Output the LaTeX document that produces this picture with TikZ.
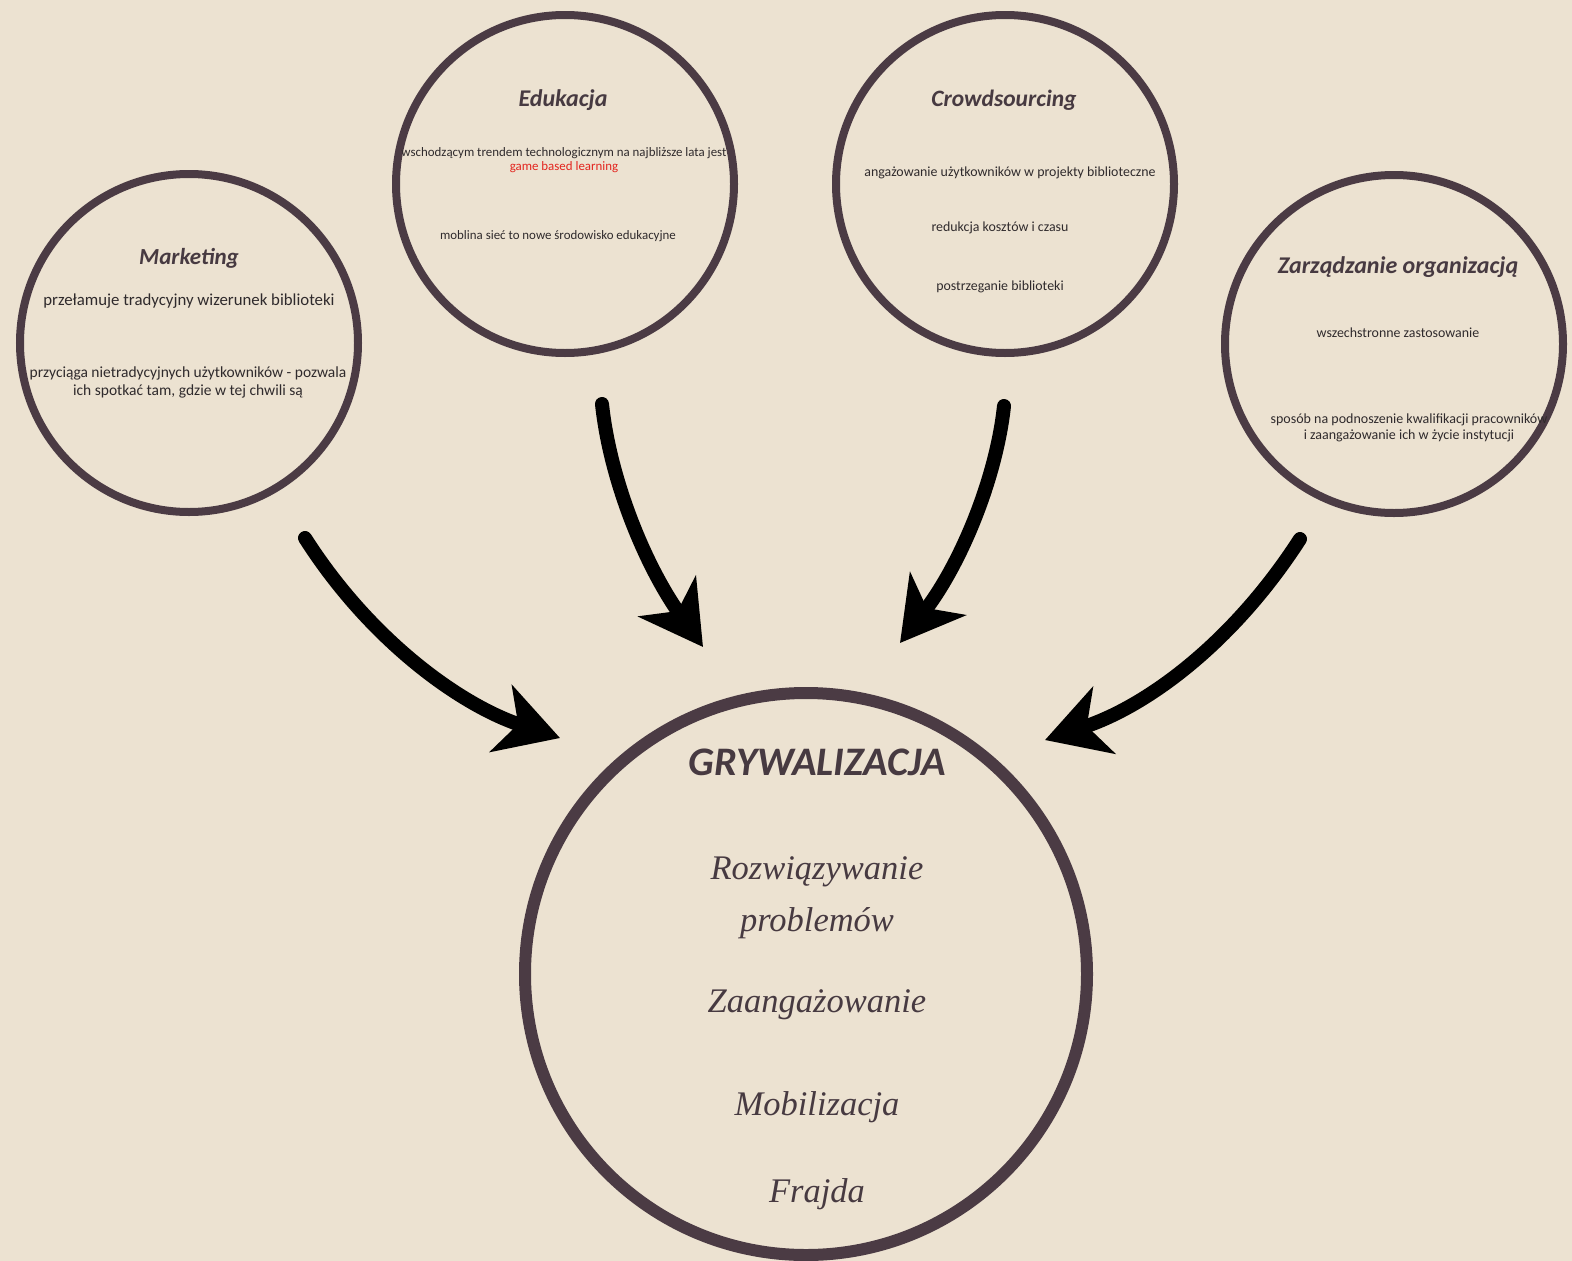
\documentclass[tikz,border=0pt]{standalone}
\usepackage{fontspec}
\usetikzlibrary{arrows.meta}
\newfontfamily\hdfont{Carlito}
\newfontfamily\srfont{Liberation Serif}
\definecolor{bgc}{HTML}{ECE2D1}
\definecolor{ringc}{HTML}{4B3B44}
\definecolor{headc}{HTML}{473A41}
\definecolor{bodyc}{HTML}{2F2A2C}
\definecolor{redc}{HTML}{E3241E}
\begin{document}
\begin{tikzpicture}[x=1pt,y=-1pt,
  ring/.style={circle,draw=ringc,line width=8pt,minimum size=338pt,inner sep=0pt},
  bigring/.style={circle,draw=ringc,line width=12pt,minimum size=562pt,inner sep=0pt},
  head/.style={text=headc,font=\hdfont\bfseries\itshape\fontsize{24}{28}\selectfont,inner sep=0pt},
  body/.style={text=bodyc,align=center,inner sep=0pt,font=\hdfont\fontsize{16.8}{18}\selectfont},
  small/.style={text=bodyc,align=center,inner sep=0pt,font=\hdfont\fontsize{13.9}{16}\selectfont},
  bigtxt/.style={text=headc,font=\srfont\itshape\fontsize{34.5}{52}\selectfont,align=center,inner sep=0pt},
  conn/.style={line width=14pt,line cap=round,-{Stealth[length=62pt,width=70pt,inset=18pt]}}]
\fill[bgc] (0,0) rectangle (1572,1261);
\useasboundingbox (0,0) rectangle (1572,1261);

% circles
\node[ring] (mk) at (189,343) {};
\node[ring] (ed) at (565,184) {};
\node[ring] (cr) at (1005,184) {};
\node[ring] (zo) at (1394,344) {};
\node[bigring] (gr) at (806,974) {};

% Marketing
\node[head,font=\hdfont\bfseries\itshape\fontsize{23}{28}\selectfont] (mkh) at (189,258) {Marketing};
\node[body] (mk1) at (189,301) {przełamuje tradycyjny wizerunek biblioteki};
\node[body,font=\hdfont\fontsize{15.5}{18}\selectfont] (mk2) at (188,382) {przyciąga nietradycyjnych użytkowników - pozwala\\ich spotkać tam, gdzie w tej chwili są};

% Edukacja
\node[head] (edh) at (563,100) {Edukacja};
\node[small,font=\hdfont\fontsize{12.9}{14}\selectfont] (ed1) at (564,160) {wschodzącym trendem technologicznym na najbliższe lata jest\\\textcolor{redc}{game based learning}};
\node[small,font=\hdfont\fontsize{12.9}{14}\selectfont] (ed2) at (558,236) {moblina sieć to nowe środowisko edukacyjne};

% Crowdsourcing
\node[head,font=\hdfont\bfseries\itshape\fontsize{23.5}{28}\selectfont] (crh) at (1004,100) {Crowdsourcing};
\node[small] (cr1) at (1010,173) {angażowanie użytkowników w projekty biblioteczne};
\node[small] (cr2) at (1000,228) {redukcja kosztów i czasu};
\node[small] (cr3) at (1000,287) {postrzeganie biblioteki};

% Zarzadzanie
\node[head] (zoh) at (1398,267) {Zarządzanie organizacją};
\node[small] (zo1) at (1398,333) {wszechstronne zastosowanie};
\node[small,font=\hdfont\fontsize{14}{16}\selectfont] (zo2) at (1409,428) {sposób na podnoszenie kwalifikacji pracowników\\i zaangażowanie ich w życie instytucji};

% Grywalizacja
\node[head,font=\hdfont\bfseries\itshape\fontsize{40.5}{44}\selectfont] (grh) at (817,762) {GRYWALIZACJA};
\node[bigtxt] (g1) at (817,898) {Rozwiązywanie\\problemów};
\node[bigtxt] (g2) at (817,1005) {Zaangażowanie};
\node[bigtxt] (g3) at (817,1107) {Mobilizacja};
\node[bigtxt] (g4) at (817,1194) {Frajda};

% arrow coordinates
\coordinate (a1s) at (305,538);
\coordinate (a1e) at (560,738);
\coordinate (a2s) at (602,404);
\coordinate (a2e) at (703,647);
\coordinate (a3s) at (1004,406);
\coordinate (a3e) at (900,643);
\coordinate (a4s) at (1300,539);
\coordinate (a4e) at (1045,740);

\draw[conn] (a1s) .. controls (370,640) and (460,705) .. (a1e);
\draw[conn] (a2s) .. controls (610,480) and (645,565) .. (a2e);
\draw[conn] (a3s) .. controls (996,480) and (960,565) .. (a3e);
\draw[conn] (a4s) .. controls (1235,640) and (1150,705) .. (a4e);
\end{tikzpicture}
\end{document}
